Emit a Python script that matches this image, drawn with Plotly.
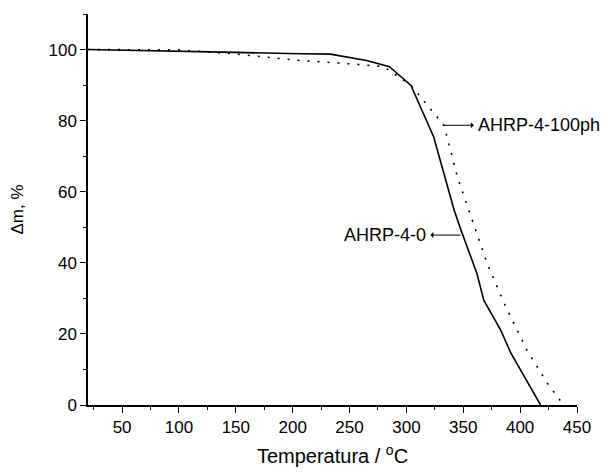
import plotly.graph_objects as go

# AHRP-4-0 (solid)
t_solid = [20, 100, 150, 207, 233, 265, 285, 304, 324, 342, 348, 362, 368, 383, 392, 418]
m_solid = [100, 99.6, 99.2, 98.8, 98.7, 96.9, 95.2, 89.9, 75.4, 54.8, 49.2, 37.0, 29.5, 21.0, 14.5, 0.0]

# AHRP-4-100ph (dotted)
t_dot = [20, 100, 148, 207, 250, 280, 304, 333, 345, 362, 371, 386, 406, 424, 437]
m_dot = [100, 99.9, 98.8, 96.9, 96.0, 95.2, 89.9, 78.7, 64.0, 48.2, 39.8, 28.6, 15.4, 6.1, 0.5]

x_ticks = [50, 100, 150, 200, 250, 300, 350, 400, 450]
y_ticks = [0, 20, 40, 60, 80, 100]

fig = go.Figure()
fig.add_trace(go.Scatter(x=t_solid, y=m_solid, mode="lines",
                         line=dict(color="black", width=1.6), showlegend=False))
fig.add_trace(go.Scatter(x=t_dot, y=m_dot, mode="lines",
                         line=dict(color="black", width=1.6, dash="2px,8px"), showlegend=False))

fam = "Liberation Sans, Arial, sans-serif"
ann_font = dict(family=fam, size=18, color="black")

fig.add_annotation(x=332, y=78.7, ax=33, ay=0, text="AHRP-4-100ph", showarrow=True,
                   arrowside="start", arrowhead=2, arrowsize=0.8, arrowwidth=1, arrowcolor="black",
                   xanchor="left", font=ann_font, startstandoff=2)
fig.add_annotation(x=347.5, y=47.8, ax=-32, ay=0, text="AHRP-4-0", showarrow=True,
                   arrowside="start", arrowhead=2, arrowsize=0.8, arrowwidth=1, arrowcolor="black",
                   xanchor="right", font=ann_font, startstandoff=2)

fig.update_layout(
    width=607, height=466,
    margin=dict(l=80, r=38, t=6, b=69),
    paper_bgcolor="white", plot_bgcolor="white",
    font=dict(family=fam, size=17, color="black"),
    xaxis=dict(range=[20, 450], tickvals=x_ticks, ticks="outside", ticklen=6, tickwidth=1,
               tickcolor="black", showline=True, linecolor="black", linewidth=1.5,
               showgrid=False, zeroline=False, automargin=False,
               tickfont=dict(size=17),
               minor=dict(dtick=25, tick0=0, ticks="outside", ticklen=3, tickcolor="black"),
               title=dict(text="Temperatura / <sup>o</sup>C", font=dict(size=20), standoff=13)),
    yaxis=dict(range=[0, 110], tickvals=y_ticks, ticks="outside", ticklen=6, tickwidth=1,
               tickcolor="black", showline=True, linecolor="black", linewidth=1.5,
               showgrid=False, zeroline=False, automargin=False,
               tickfont=dict(size=17),
               minor=dict(dtick=10, tick0=0, ticks="outside", ticklen=3, tickcolor="black"),
               title=dict(text="Δm, %", font=dict(size=17), standoff=24)),
)

fig.write_html("out.html")
